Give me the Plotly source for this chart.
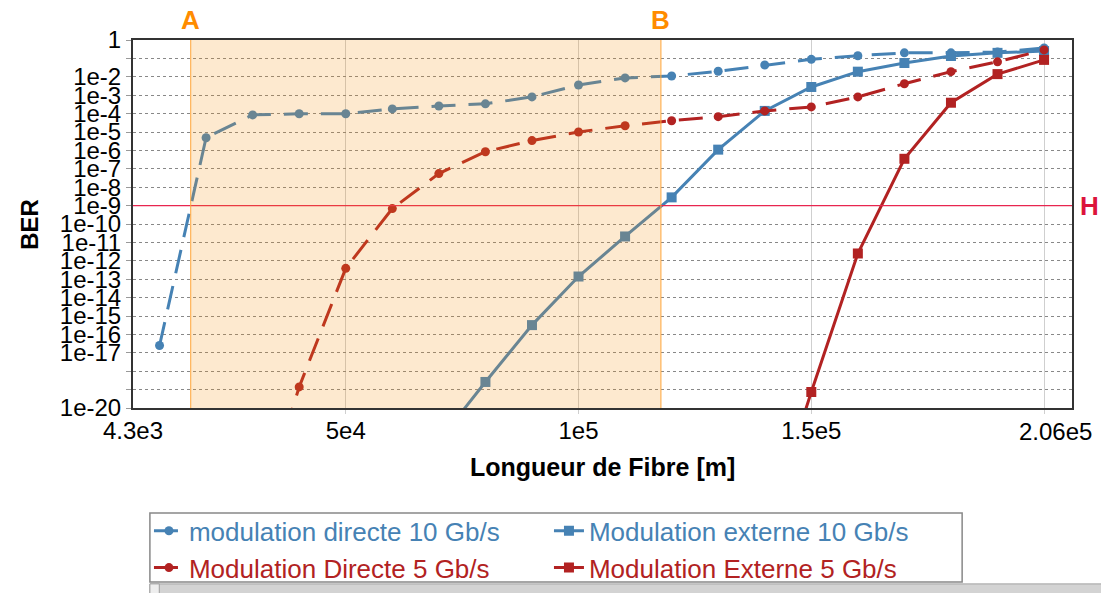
import plotly.graph_objects as go

# ---------------- data ----------------
x_dir10 = [1e4, 2e4, 3e4, 4e4, 5e4, 6e4, 7e4, 8e4, 9e4, 1e5,
           1.1e5, 1.2e5, 1.3e5, 1.4e5, 1.5e5, 1.6e5, 1.7e5, 1.8e5, 1.9e5, 2e5]
ber_dir10 = [2.5e-17, 4.9e-6, 8.5e-5, 9.8e-5, 9.8e-5, 1.8e-4, 2.6e-4, 3.4e-4, 8.1e-4, 3.6e-3,
             8.7e-3, 1.1e-2, 2.0e-2, 4.4e-2, 8.9e-2, 0.14, 0.20, 0.20, 0.22, 0.37]

x_ext10 = [7e4, 8e4, 9e4, 1e5, 1.1e5, 1.2e5, 1.3e5, 1.4e5, 1.5e5, 1.6e5, 1.7e5, 1.8e5, 1.9e5, 2e5]
ber_ext10 = [1.6e-22, 2.6e-19, 3.2e-16, 1.4e-13, 2.1e-11, 2.8e-9, 1.1e-6, 1.4e-4, 2.8e-3,
             1.9e-2, 5.6e-2, 0.135, 0.20, 0.25]

x_dir5 = [3e4, 4e4, 5e4, 6e4, 7e4, 8e4, 9e4, 1e5, 1.1e5, 1.2e5, 1.3e5, 1.4e5, 1.5e5,
          1.6e5, 1.7e5, 1.8e5, 1.9e5, 2e5]
ber_dir5 = [1e-27, 1.4e-19, 3.9e-13, 6.9e-10, 5.5e-8, 8.5e-7, 3.4e-6, 1.0e-5, 2.2e-5, 4.1e-5,
            6.8e-5, 1.4e-4, 2.3e-4, 8.1e-4, 4.2e-3, 1.9e-2, 6.5e-2, 0.29]

x_ext5 = [1.4e5, 1.5e5, 1.6e5, 1.7e5, 1.8e5, 1.9e5, 2e5]
ber_ext5 = [1e-27, 7.4e-20, 2.5e-12, 3.5e-7, 3.9e-4, 1.4e-2, 8.3e-2]

names = ["modulation directe 10 Gb/s", "Modulation externe 10 Gb/s",
         "Modulation Directe 5 Gb/s", "Modulation Externe 5 Gb/s"]

x_range = [4.3e3, 2.06e5]
x_tickvals = [4.3e3, 5e4, 1e5, 1.5e5, 2.06e5]
x_ticktext = ["4.3e3", "5e4", "1e5", "1.5e5", ""]
x_gridvals = [5e4, 1e5, 1.5e5, 2e5]

y_tickvals = [1, 1e-1, 1e-2, 1e-3, 1e-4, 1e-5, 1e-6, 1e-7, 1e-8, 1e-9, 1e-10,
              1e-11, 1e-12, 1e-13, 1e-14, 1e-15, 1e-16, 1e-17, 1e-18, 1e-19, 1e-20]
y_ticktext = ["1", "", "1e-2", "1e-3", "1e-4", "1e-5", "1e-6", "1e-7", "1e-8", "1e-9", "1e-10",
              "1e-11", "1e-12", "1e-13", "1e-14", "1e-15", "1e-16", "1e-17", "", "", "1e-20"]

cursor_A = 1.67e4
cursor_B = 1.177e5
threshold_H = 1e-9

BLUE = "#4682B4"
RED = "#B22222"
ORANGE = "#FF8C00"
CRIMSON = "#DC143C"
FONT = "Liberation Sans, Arial, sans-serif"

fig = go.Figure()

series = [
    (x_dir10, ber_dir10, names[0], BLUE, "dash", "circle", 9),
    (x_ext10, ber_ext10, names[1], BLUE, "solid", "square", 10),
    (x_dir5, ber_dir5, names[2], RED, "dash", "circle", 9),
    (x_ext5, ber_ext5, names[3], RED, "solid", "square", 10),
]
for xs, ys, nm, col, dash, sym, ms in series:
    fig.add_trace(go.Scatter(
        x=xs, y=ys, mode="lines+markers",
        name=f"<span style='color:{col}'>{nm}</span>",
        line=dict(color=col, width=3, dash=("24px,13px" if dash == "dash" else "solid")),
        marker=dict(color=col, symbol=sym, size=ms),
    ))

# threshold line H
fig.add_trace(go.Scatter(
    x=x_range, y=[threshold_H, threshold_H], mode="lines",
    line=dict(color="#E8254F", width=1.3), showlegend=False, hoverinfo="skip",
))

# shaded region between cursors A and B
fig.add_shape(type="rect", xref="x", yref="paper", x0=cursor_A, x1=cursor_B, y0=0, y1=1,
              fillcolor="rgba(245,145,15,0.2)", line=dict(width=0), layer="above")
for cx in (cursor_A, cursor_B):
    fig.add_shape(type="line", xref="x", yref="paper", x0=cx, x1=cx, y0=0, y1=1,
                  line=dict(color="#FFA53A", width=1), layer="above")

annotations = [
    dict(x=cursor_A, y=1.055, xref="x", yref="paper", text="<b>A</b>", showarrow=False,
         font=dict(size=26, color=ORANGE, family=FONT), xanchor="center", yanchor="middle"),
    dict(x=cursor_B, y=1.055, xref="x", yref="paper", text="<b>B</b>", showarrow=False,
         font=dict(size=26, color=ORANGE, family=FONT), xanchor="center", yanchor="middle"),
    dict(x=1.019, y=0.55, xref="paper", yref="paper", text="<b>H</b>", showarrow=False,
         font=dict(size=26, color=CRIMSON, family=FONT), xanchor="center", yanchor="middle"),
    dict(x=2.06e5, y=-0.065, xref="x", yref="paper", text="2.06e5", showarrow=False,
         font=dict(size=24, color="black", family=FONT), xanchor="right", yanchor="middle",
         xshift=22),
    dict(x=0.5, y=-0.16, xref="paper", yref="paper", text="<b>Longueur de Fibre [m]</b>",
         showarrow=False, font=dict(size=25, color="black", family=FONT),
         xanchor="center", yanchor="middle"),
    dict(x=-0.111, y=0.5, xref="paper", yref="paper", text="<b>BER</b>", textangle=-90,
         showarrow=False, font=dict(size=24, color="black", family=FONT),
         xanchor="center", yanchor="middle"),
]

# legend frame (pixel box ~150..962 x 513..582) and scrollbar-like strip below it
fig.add_shape(type="rect", xref="paper", yref="paper", x0=0.018, x1=0.883, y0=-0.285, y1=-0.473,
              fillcolor="rgba(0,0,0,0)", line=dict(color="#888888", width=1.5), layer="above")
fig.add_shape(type="rect", xref="paper", yref="paper", x0=0.018, x1=1.04, y0=-0.478, y1=-0.51,
              fillcolor="#D3D3D3", line=dict(color="#A0A0A0", width=1), layer="above")
fig.add_shape(type="rect", xref="paper", yref="paper", x0=0.018, x1=0.028, y0=-0.478, y1=-0.51,
              fillcolor="#EEEEEE", line=dict(color="#A0A0A0", width=1), layer="above")

fig.update_layout(
    width=1101, height=593,
    margin=dict(l=133, r=29, t=40, b=185, autoexpand=False),
    paper_bgcolor="white", plot_bgcolor="white",
    font=dict(family=FONT, color="black"),
    showlegend=True,
    legend=dict(orientation="h", x=0.017, xanchor="left", y=-0.27, yanchor="top",
                borderwidth=0, bgcolor="rgba(0,0,0,0)",
                font=dict(size=26, family=FONT), entrywidth=355, entrywidthmode="pixels",
                itemwidth=30, tracegroupgap=0),
    annotations=annotations,
    xaxis=dict(range=x_range, tickmode="array", tickvals=x_tickvals, ticktext=x_ticktext,
               showgrid=False, zeroline=False, automargin=False,
               minor=dict(tickmode="array", tickvals=x_gridvals, showgrid=True,
                          gridcolor="#CFCFCF", gridwidth=1, ticks="outside", ticklen=4,
                          tickcolor="#CFCFCF"),
               showline=True, linecolor="#333333", linewidth=2, mirror=True,
               ticks="", tickfont=dict(size=24, color="black", family=FONT)),
    yaxis=dict(type="log", range=[-20, 0], tickmode="array", tickvals=y_tickvals,
               ticktext=y_ticktext, showgrid=True, gridcolor="#888888", griddash="dot",
               gridwidth=1, zeroline=False, showline=True, linecolor="#333333", linewidth=2,
               mirror=True, ticks="outside", ticklen=5, tickcolor="#999999",
               ticklabelstandoff=0, automargin=False,
               tickfont=dict(size=24, color="black", family=FONT)),
)

fig.write_html("out.html", config={"displayModeBar": False},
               post_script="document.body.style.margin='0px';document.body.style.overflow='hidden';")
